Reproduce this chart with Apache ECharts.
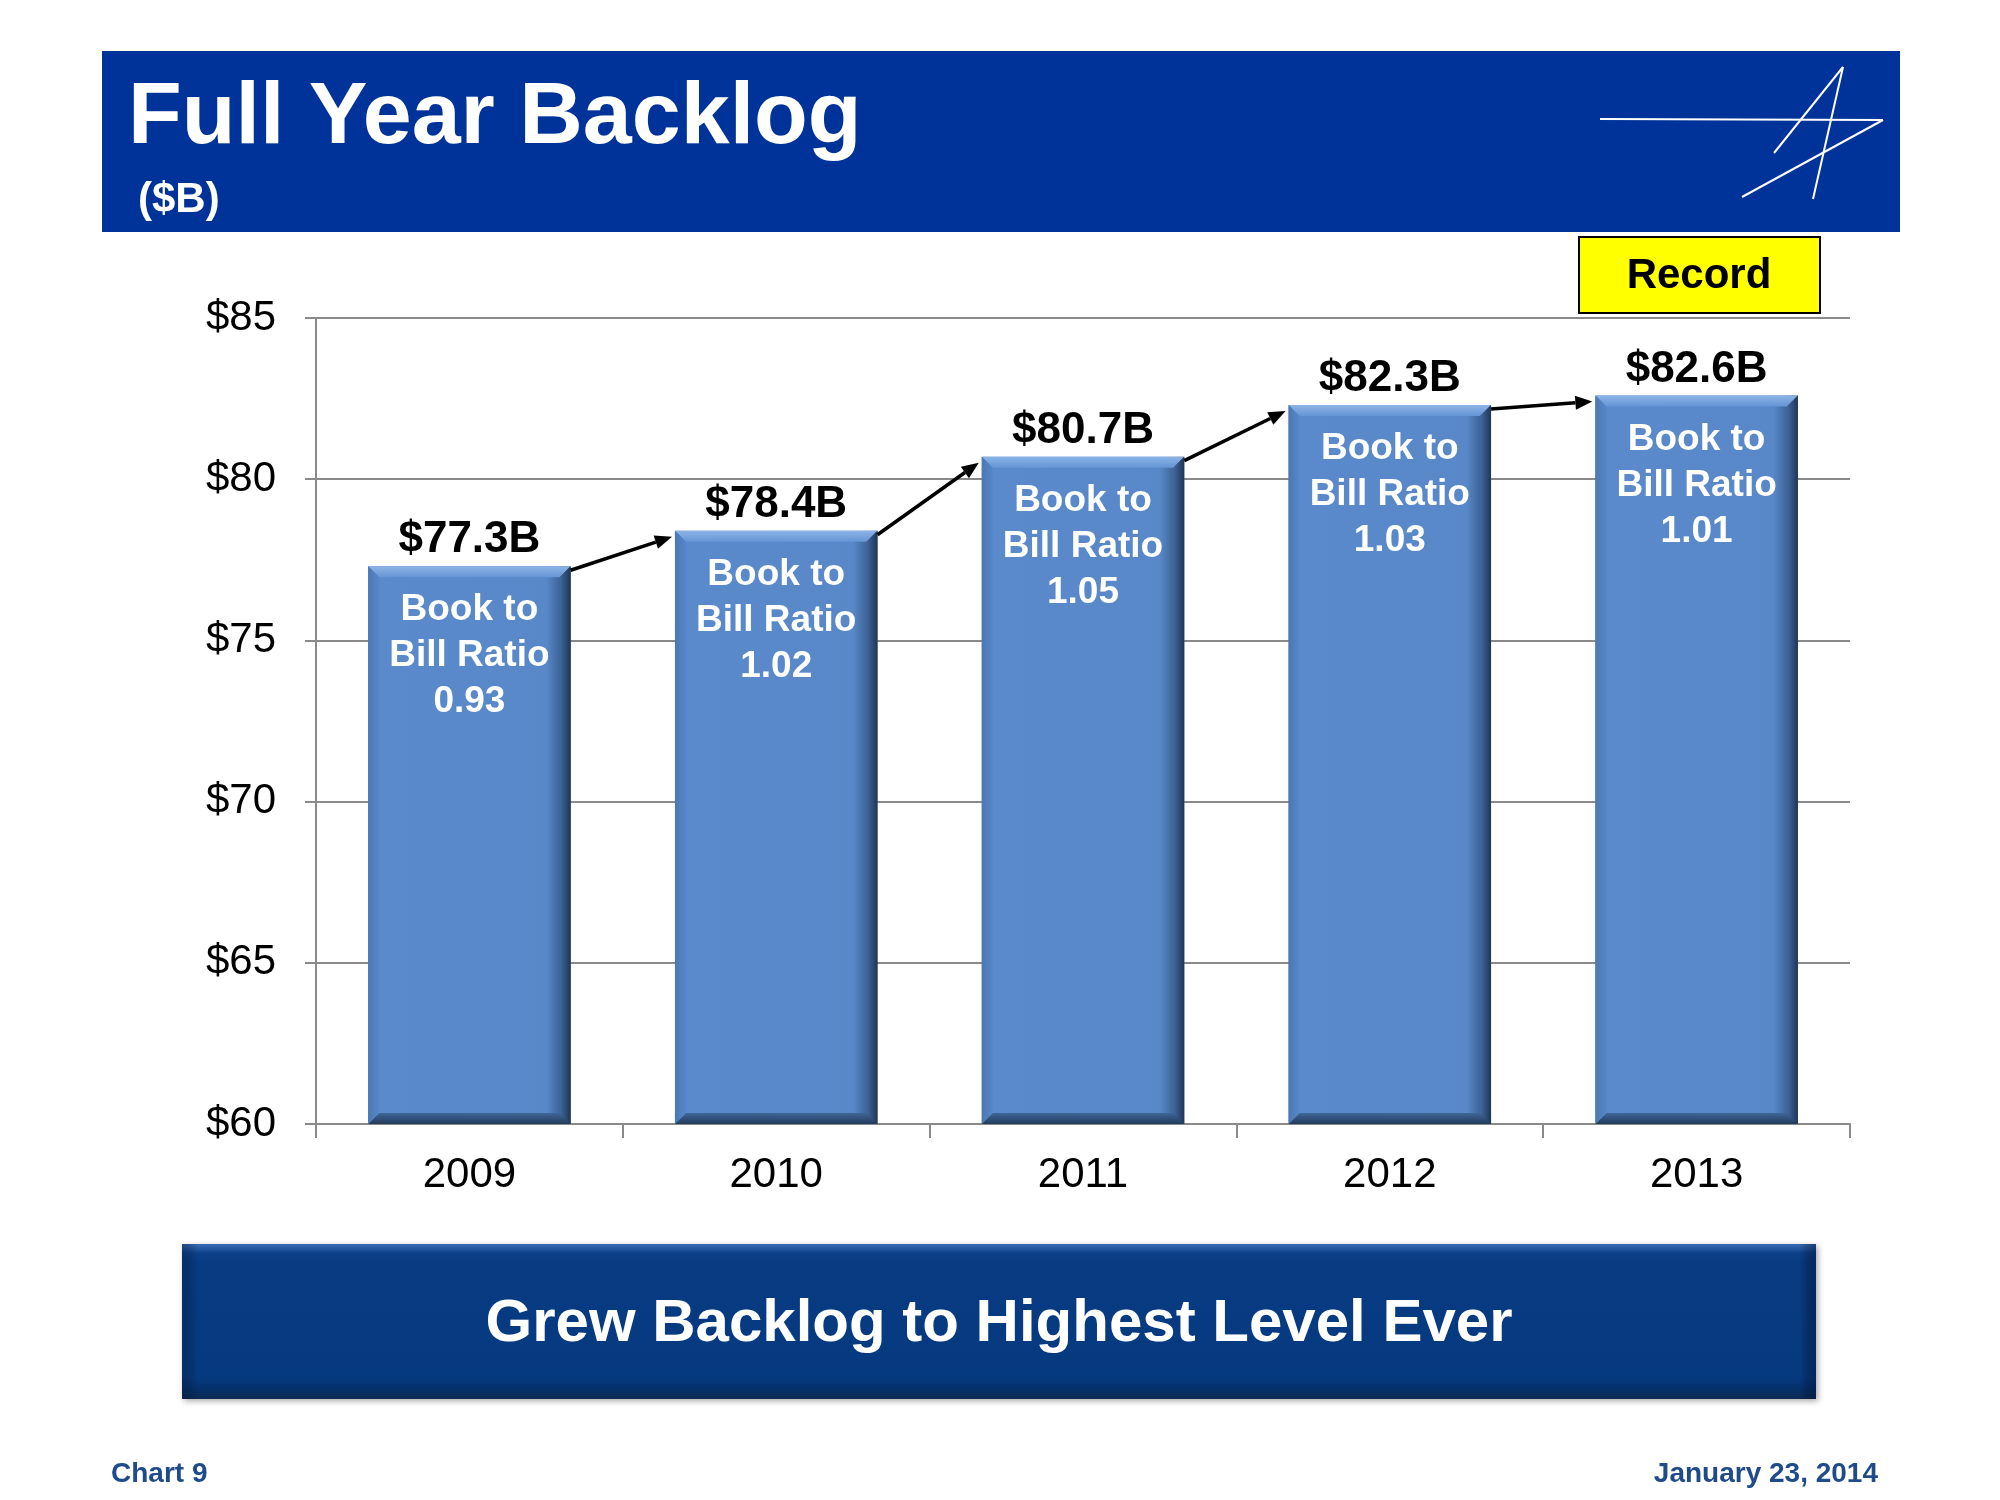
<!DOCTYPE html>
<html>
<head>
<meta charset="utf-8">
<script src="https://cdn.jsdelivr.net/npm/echarts@6/dist/echarts.min.js"></script>
<style>html,body{margin:0;padding:0;background:#fff;}#c{width:2000px;height:1500px;}</style>
</head>
<body>
<div id="c"></div>
<script>
const years = ['2009', '2010', '2011', '2012', '2013'];
const backlog = [77.3, 78.4, 80.7, 82.3, 82.6];
const bookToBill = [0.93, 1.02, 1.05, 1.03, 1.01];
const yMin = 60, yMax = 85, yStep = 5;

const FONT = "'Liberation Sans', Arial, sans-serif";
const BAR_FRAC = 0.66;

const chart = echarts.init(document.getElementById('c'), null, {renderer: 'canvas'});

function lg(x0, y0, x1, y1, stops) {
  return new echarts.graphic.LinearGradient(x0, y0, x1, y1, stops.map(s => ({offset: s[0], color: s[1]})));
}

const option = {
  backgroundColor: '#ffffff',
  animation: false,
  grid: {left: 316, right: 150, top: 318, bottom: 376, containLabel: false},
  xAxis: {
    type: 'category',
    data: years,
    boundaryGap: true,
    axisLine: {show: true, lineStyle: {color: '#8a8a8a', width: 2}},
    axisTick: {show: true, length: 14, inside: false, lineStyle: {color: '#8a8a8a', width: 2}},
    axisLabel: {margin: 30, color: '#000', fontFamily: FONT, fontSize: 42}
  },
  yAxis: {
    type: 'value',
    min: yMin, max: yMax, interval: yStep,
    axisLine: {show: true, lineStyle: {color: '#8a8a8a', width: 2}},
    axisTick: {show: true, length: 11, lineStyle: {color: '#8a8a8a', width: 2}},
    splitLine: {show: true, lineStyle: {color: '#8a8a8a', width: 2}},
    axisLabel: {margin: 40, color: '#000', fontFamily: FONT, fontSize: 42, formatter: v => '$' + v}
  },
  series: [
    {
      type: 'bar',
      data: backlog,
      barWidth: (BAR_FRAC * 100) + '%',
      barGap: '-100%',
      z: 2,
      itemStyle: {
        color: lg(0, 0, 1, 0, [[0, '#4f7fbd'], [0.05, '#5a8acb'], [0.88, '#5888c8'], [0.95, '#3d6398'], [1, '#233c5e']])
      },
      label: {
        show: true, position: 'top', distance: 4,
        formatter: p => '$' + p.value.toFixed(1) + 'B',
        color: '#000', fontFamily: FONT, fontWeight: 'bold', fontSize: 44
      }
    },
    {
      type: 'custom',
      z: 3,
      silent: true,
      clip: false,
      data: backlog.map((v, i) => [i, v]),
      encode: {x: 0, y: 1},
      renderItem: function (params, api) {
        const i = api.value(0);
        const top = api.coord([i, api.value(1)]);
        const base = api.coord([i, yMin]);
        const w = api.size([1, 0])[0] * BAR_FRAC;
        const x0 = top[0] - w / 2, x1 = top[0] + w / 2, y0 = top[1], y1 = base[1];
        const b = 11;
        return {
          type: 'group',
          children: [
            {type: 'polygon', shape: {points: [[x0, y0], [x1, y0], [x1 - b, y0 + b], [x0 + b, y0 + b]]},
              style: {fill: lg(0, 0, 0, 1, [[0, '#8db4e6'], [1, '#6595d5']])}},
            {type: 'polygon', shape: {points: [[x1, y0], [x1, y1], [x1 - b, y1 - b], [x1 - b, y0 + b]]},
              style: {fill: lg(0, 0, 1, 0, [[0, '#42699f'], [1, '#1f3656']])}},
            {type: 'polygon', shape: {points: [[x0, y1], [x1, y1], [x1 - b, y1 - b], [x0 + b, y1 - b]]},
              style: {fill: lg(0, 0, 0, 1, [[0, '#3f6598'], [1, '#233b5c']])}},
            {type: 'polygon', shape: {points: [[x0, y0], [x0 + b, y0 + b], [x0 + b, y1 - b], [x0, y1]]},
              style: {fill: lg(0, 0, 1, 0, [[0, '#4a78b4'], [1, '#5787c7']])}}
          ]
        };
      }
    },
    {
      type: 'bar',
      data: backlog,
      barWidth: (BAR_FRAC * 100) + '%',
      barGap: '-100%',
      z: 4,
      silent: true,
      itemStyle: {color: 'rgba(0,0,0,0)'},
      label: {
        show: true, position: 'insideTop', distance: 21,
        formatter: p => 'Book to\nBill Ratio\n' + bookToBill[p.dataIndex].toFixed(2),
        color: '#fff', fontFamily: FONT, fontWeight: 'bold', fontSize: 37, lineHeight: 46, align: 'center'
      }
    },
    {
      type: 'custom',
      z: 5,
      silent: true,
      clip: false,
      data: backlog.slice(0, -1).map((v, i) => [i, v, backlog[i + 1]]),
      encode: {x: 0, y: 1},
      renderItem: function (params, api) {
        const i = api.value(0);
        const w = api.size([1, 0])[0] * BAR_FRAC;
        const a = api.coord([i, api.value(1)]);
        const c = api.coord([i + 1, api.value(2)]);
        const sx = a[0] + w / 2, sy = a[1] + 4;
        const ex = c[0] - w / 2 - 3, ey = c[1] + 6;
        const ang = Math.atan2(ey - sy, ex - sx);
        const L = 17, H = 7;
        const bx = ex - L * Math.cos(ang), by = ey - L * Math.sin(ang);
        const px = -Math.sin(ang) * H, py = Math.cos(ang) * H;
        return {
          type: 'group',
          children: [
            {type: 'line', shape: {x1: sx, y1: sy, x2: bx, y2: by}, style: {stroke: '#000', lineWidth: 3.5}},
            {type: 'polygon', shape: {points: [[ex, ey], [bx + px, by + py], [bx - px, by - py]]}, style: {fill: '#000'}}
          ]
        };
      }
    }
  ],
  graphic: [
    {type: 'rect', shape: {x: 102, y: 51, width: 1798, height: 181}, style: {fill: '#003399'}, z: 1},
    {type: 'text', style: {x: 128, y: 119, text: 'Full Year Backlog', fill: '#fff', font: 'bold 88px ' + FONT, textVerticalAlign: 'middle'}, z: 2},
    {type: 'text', style: {x: 138, y: 200, text: '($B)', fill: '#fff', font: 'bold 42px ' + FONT, textVerticalAlign: 'middle'}, z: 2},
    {type: 'polyline', shape: {points: [[1600, 119], [1883, 120]]}, style: {stroke: '#fff', lineWidth: 2}, z: 2},
    {type: 'polyline', shape: {points: [[1883, 120], [1742, 197]]}, style: {stroke: '#fff', lineWidth: 2}, z: 2},
    {type: 'polyline', shape: {points: [[1843, 67], [1813, 199]]}, style: {stroke: '#fff', lineWidth: 2}, z: 2},
    {type: 'polyline', shape: {points: [[1843, 67], [1774, 153]]}, style: {stroke: '#fff', lineWidth: 2}, z: 2},
    {type: 'rect', shape: {x: 1579, y: 237, width: 241, height: 76}, style: {fill: '#ffff00', stroke: '#000', lineWidth: 2}, z: 2},
    {type: 'text', style: {x: 1699, y: 276, text: 'Record', fill: '#000', font: 'bold 42px ' + FONT, textAlign: 'center', textVerticalAlign: 'middle'}, z: 3},
    {type: 'rect', shape: {x: 182, y: 1244, width: 1634, height: 155},
      style: {fill: lg(0, 0, 0, 1, [[0, '#3a6cb4'], [0.06, '#0c4189'], [0.12, '#083b82'], [0.86, '#063a80'], [0.94, '#043069'], [1, '#0e2b52']]),
        shadowBlur: 6, shadowColor: 'rgba(0,0,0,0.35)', shadowOffsetX: 2, shadowOffsetY: 2}, z: 1},
    {type: 'rect', shape: {x: 182, y: 1244, width: 1634, height: 155},
      style: {fill: lg(0, 0, 1, 0, [[0, 'rgba(0,20,60,0.35)'], [0.01, 'rgba(0,0,0,0)'], [0.99, 'rgba(0,0,0,0)'], [1, 'rgba(0,20,60,0.5)']])}, z: 1},
    {type: 'text', style: {x: 999, y: 1324, text: 'Grew Backlog to Highest Level Ever', fill: '#fff', font: 'bold 60px ' + FONT, textAlign: 'center', textVerticalAlign: 'middle'}, z: 2},
    {type: 'text', style: {x: 111, y: 1474, text: 'Chart 9', fill: '#1f4b8a', font: 'bold 28px ' + FONT, textVerticalAlign: 'middle'}, z: 2},
    {type: 'text', style: {x: 1878, y: 1474, text: 'January 23, 2014', fill: '#1f4b8a', font: 'bold 28px ' + FONT, textAlign: 'right', textVerticalAlign: 'middle'}, z: 2}
  ]
};
chart.setOption(option);
</script>
</body>
</html>
